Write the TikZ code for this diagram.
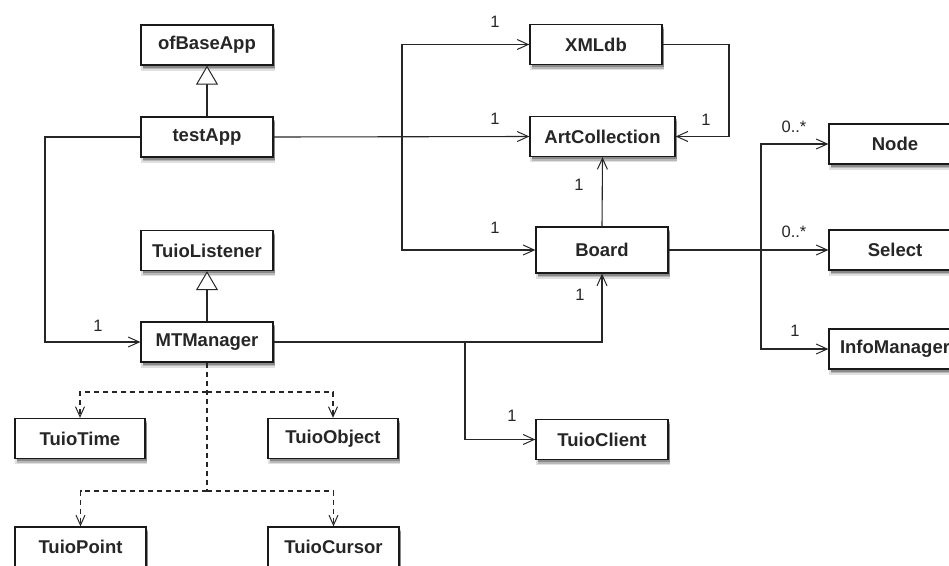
\documentclass[tikz,border=0pt]{standalone}
\usepackage{fontspec}
\setmainfont{Liberation Sans}
\usetikzlibrary{arrows.meta,shadows}
\begin{document}
\begin{tikzpicture}[x=1pt,y=-1pt,
  cls/.style={draw=black!90, line width=1.3pt, fill=white, minimum width=132pt, minimum height=40pt, inner sep=0pt,
    font=\bfseries\fontsize{18.5}{20}\selectfont, text=black!85,
    general shadow={shadow xshift=1pt, shadow yshift=-5pt, shadow scale=1.02, fill=black, opacity=0.12},
    general shadow={shadow xshift=2pt, shadow yshift=-4pt, fill=black, opacity=0.18},
    general shadow={shadow xshift=1.5pt, shadow yshift=-2.5pt, fill=black, opacity=0.25}},
  conn/.style={draw=black!85, line width=1.1pt},
  arr/.style={conn, -{Straight Barb[length=11pt,width=10pt,line width=1pt]}},
  gen/.style={conn, -{Triangle[open,length=19pt,width=22pt,line width=1pt,fill=white]}},
  dep/.style={conn, dash pattern=on 5pt off 4pt},
  deparr/.style={dep, -{Straight Barb[length=10pt,width=9pt,line width=1pt]}},
  lbl/.style={font=\fontsize{16.5}{18}\selectfont, inner sep=0pt, text=black!85}
]
\useasboundingbox (0,0) rectangle (949,565);
\clip (0,0) rectangle (949,565);

% classes
\node[cls] (ofb) at (207,45) {ofBaseApp};
\node[cls] (tA) at (207,137) {testApp};
\node[cls] (TL) at (207,250.5) {TuioListener};
\node[cls] (MT) at (207,342) {MTManager};
\node[cls, minimum width=130pt] (TT) at (80,438.5) {TuioTime};
\node[cls, minimum width=130pt] (TO) at (333,438.5) {TuioObject};
\node[cls, minimum width=131pt] (TP) at (80.5,547) {TuioPoint};
\node[cls, minimum width=131pt] (TCu) at (333.5,547) {TuioCursor};
\node[cls] (XML) at (596,44.5) {XMLdb};
\node[cls, minimum width=145pt] (AC) at (602.5,136.5) {ArtCollection};
\node[cls, minimum height=46pt] (Bd) at (602,250) {Board};
\node[cls] (TC) at (602,439.5) {TuioClient};
\node[cls] (Nd) at (895,144) {Node};
\node[cls] (Sel) at (895,250) {Select};
\node[cls] (IM) at (895,349) {InfoManager};

% junction coordinates
\coordinate (cL) at (45,200);
\coordinate (j1) at (402,137);
\coordinate (xr) at (729,90);
\coordinate (j2) at (465,342);
\coordinate (j3) at (761,250);
\coordinate (d1) at (207,392);
\coordinate (d2) at (207,491);

% generalizations
\draw[gen] (tA.north) -- (ofb.south);
\draw[gen] (MT.north) -- (TL.south);

% associations
\draw[arr] (tA.east) -- (AC.west);
\draw[arr] (tA.west) -| (cL) |- (MT.west);
\draw[arr] (j1) |- (XML.west);
\draw[arr] (j1) |- (Bd.west);
\draw[arr] (XML.east) -| (xr) |- (AC.east);
\draw[arr] (Bd.north) -- (AC.south);
\draw[arr] (MT.east) -| (Bd.south);
\draw[arr] (j2) |- (TC.west);
\draw[arr] (Bd.east) -- (Sel.west);
\draw[arr] (j3) |- (Nd.west);
\draw[arr] (j3) |- (IM.west);

% dependencies
\draw[dep] (MT.south) -- (d2);
\draw[deparr] (d1) -| (TT.north);
\draw[deparr] (d1) -| (TO.north);
\draw[deparr] (d2) -| (TP.north);
\draw[deparr] (d2) -| (TCu.north);

% multiplicities
\node[lbl] (m1) at (495,22) {1};
\node[lbl] (m2) at (495,119) {1};
\node[lbl] (m3) at (706,120) {1};
\node[lbl] (m4) at (579,185) {1};
\node[lbl] (m5) at (495,228) {1};
\node[lbl] (m6) at (580,295) {1};
\node[lbl] (m7) at (98,326) {1};
\node[lbl] (m8) at (512,416) {1};
\node[lbl] (m9) at (794,127) {0..*};
\node[lbl] (m10) at (794,232) {0..*};
\node[lbl] (m11) at (795,331) {1};
\end{tikzpicture}
\end{document}
